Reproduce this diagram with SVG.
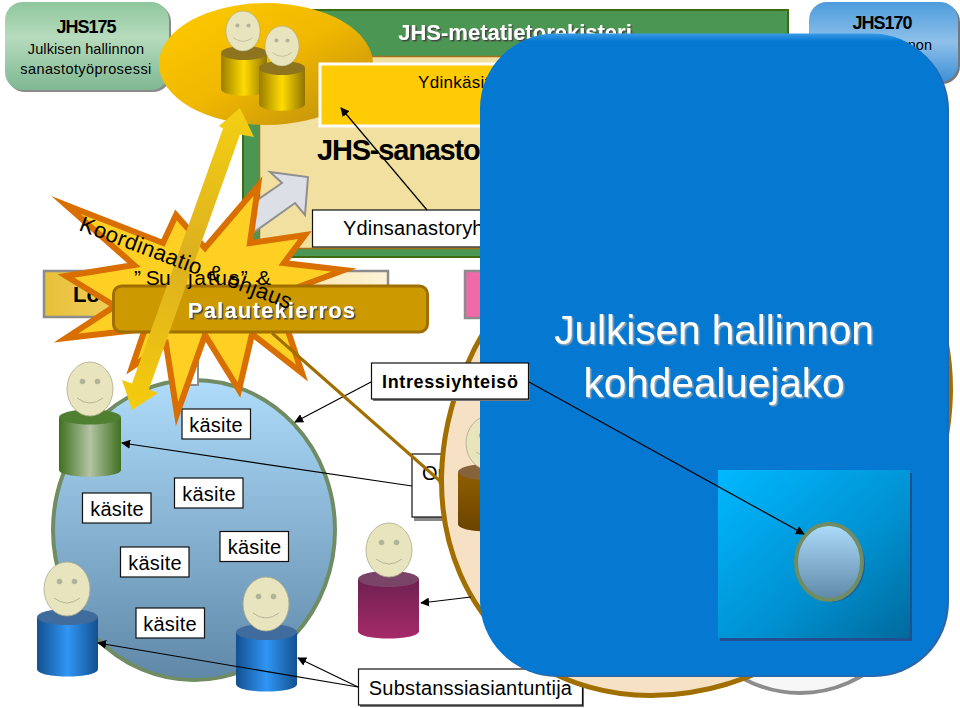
<svg xmlns="http://www.w3.org/2000/svg" width="960" height="708" viewBox="0 0 960 708">
<style>
text{font-family:"Liberation Sans",Arial,sans-serif;fill:#000}
.lab{fill:#fff;stroke:#111;stroke-width:1.2}
.k{font-size:20px;text-anchor:middle;letter-spacing:.2px}
.c{fill:none;stroke:#000;stroke-width:1.2}
.face{fill:#e8e4bd;stroke:#aaa98c;stroke-width:.8}
.eye{fill:#b3b29a}
.smile{fill:none;stroke:#a9a88c;stroke-width:.8}
.w{fill:#fff}
</style>
<defs>
<marker id="a" viewBox="0 0 10 10" refX="9" refY="5" markerWidth="9" markerHeight="9" markerUnits="userSpaceOnUse" orient="auto"><path d="M0 0L10 5L0 10z" fill="#000"/></marker>
<filter id="sh" x="-5%" y="-20%" width="110%" height="140%"><feDropShadow dx="1.500" dy="1.500" stdDeviation=".4" flood-color="#444"/></filter>
<filter id="sh2" x="-5%" y="-20%" width="110%" height="140%"><feDropShadow dx="1.500" dy="1.500" stdDeviation=".6" flood-color="#93a3b2"/></filter>
<linearGradient id="gt" x1="0" y1="0" x2="0" y2="1"><stop offset="0" stop-color="#8fc69c"/><stop offset=".4" stop-color="#b6dbbd"/><stop offset="1" stop-color="#7fb892"/></linearGradient>
<linearGradient id="bt" x1="0" y1="0" x2="0" y2="1"><stop offset="0" stop-color="#4d9ddc"/><stop offset=".5" stop-color="#8fc0ea"/><stop offset="1" stop-color="#3d8fd6"/></linearGradient>
<linearGradient id="oe" x1="0" y1="0" x2="1" y2="1"><stop offset="0" stop-color="#ffcc00"/><stop offset=".5" stop-color="#f0b800"/><stop offset="1" stop-color="#b98a10"/></linearGradient>
<linearGradient id="sk" x1="0" y1="0" x2="0" y2="1"><stop offset="0" stop-color="#afdcfb"/><stop offset="1" stop-color="#5f88a8"/></linearGradient>
<linearGradient id="cg" x1="0" y1="0" x2="1" y2="0"><stop offset="0" stop-color="#3f7020"/><stop offset=".5" stop-color="#b3c4a3"/><stop offset="1" stop-color="#3f7020"/></linearGradient>
<linearGradient id="cb" x1="0" y1="0" x2="1" y2="0"><stop offset="0" stop-color="#14508f"/><stop offset=".5" stop-color="#2f96f5"/><stop offset="1" stop-color="#14508f"/></linearGradient>
<linearGradient id="cy" x1="0" y1="0" x2="1" y2="0"><stop offset="0" stop-color="#9b7d00"/><stop offset=".5" stop-color="#ffdb00"/><stop offset="1" stop-color="#8f7400"/></linearGradient>
<linearGradient id="cm" x1="0" y1="0" x2="0" y2="1"><stop offset="0" stop-color="#6f2050"/><stop offset="1" stop-color="#a52a6a"/></linearGradient>
<linearGradient id="cbr" x1="0" y1="0" x2="0" y2="1"><stop offset="0" stop-color="#8f5f00"/><stop offset="1" stop-color="#6b4300"/></linearGradient>
<linearGradient id="ar" gradientUnits="userSpaceOnUse" x1="240" y1="108" x2="132" y2="410"><stop offset="0" stop-color="#f4d012"/><stop offset=".5" stop-color="#dcb020"/><stop offset="1" stop-color="#f6cc0c"/></linearGradient>
<linearGradient id="sq" x1="0" y1="0" x2="1" y2="1"><stop offset="0" stop-color="#00b8ff"/><stop offset=".6" stop-color="#0090d0"/><stop offset="1" stop-color="#006a9c"/></linearGradient>
<linearGradient id="lp" x1="0" y1="0" x2="1" y2="0"><stop offset="0" stop-color="#e8c038"/><stop offset=".35" stop-color="#f3d878"/><stop offset="1" stop-color="#fcf2d6"/></linearGradient>
<linearGradient id="pn" x1="0" y1="0" x2="0" y2="1"><stop offset="0" stop-color="#3a9ae6"/><stop offset=".012" stop-color="#0578d1"/></linearGradient>
<g id="head"><ellipse cx="0" cy="0" rx="23" ry="27" class="face"/><circle cx="-7.500" cy="-7.500" r="2.800" class="eye"/><circle cx="7.500" cy="-7.500" r="2.800" class="eye"/><path d="M-13 9Q0 19 13 9" class="smile"/></g>
</defs>
<rect width="960" height="708" fill="#fff"/>

<g id="jhs175"><rect x="7" y="4" width="164" height="88" rx="18" fill="#8a8a8a"/><rect x="5" y="2" width="164" height="88" rx="18" fill="url(#gt)"/>
<text x="86" y="33" text-anchor="middle" font-size="18" font-weight="700" letter-spacing="-1">JHS175</text><text x="86" y="54" text-anchor="middle" font-size="14.500" letter-spacing=".1">Julkisen hallinnon</text><text x="86" y="74" text-anchor="middle" font-size="14.500" letter-spacing=".4">sanastotyöprosessi</text></g>

<g id="jhs170"><rect x="811" y="4" width="149" height="80" rx="18" fill="#777"/><rect x="809" y="2" width="149" height="80" rx="18" fill="url(#bt)"/>
<text x="882" y="29" text-anchor="middle" font-size="18" font-weight="700" letter-spacing="-1">JHS170</text><text x="932" y="50" text-anchor="end" font-size="14.500">non</text></g>

<g id="metatieto"><rect x="243" y="10" width="545" height="247" fill="#4c9653" stroke="#3f6a12" stroke-width="2"/>
<rect x="259.500" y="56.500" width="522" height="192" fill="#f1e0a0" stroke="#a66f1a" stroke-width="1.500"/>
<text x="515" y="40" text-anchor="middle" font-size="22" font-weight="700" class="w" filter="url(#sh)">JHS-metatietorekisteri</text>
<path d="M270 172L308 177L305 215L295 203L250 235L250 205L282 183z" fill="#dcdfe6" stroke="#8f8f8f" stroke-width="2"/>
<text x="317" y="160" font-size="29" font-weight="700" letter-spacing="-1.200">JHS-sanasto</text>
<rect x="312.500" y="210" width="300" height="37" class="lab"/><text x="343" y="235" font-size="20" letter-spacing=".2">Ydinsanastoryh</text></g>

<g id="ellipse-top"><ellipse cx="266" cy="64" rx="107" ry="61" fill="url(#oe)"/></g>
<g id="ydinkasit"><rect x="320" y="64" width="440" height="62" fill="#ffcb05" stroke="#fff" stroke-width="3"/>
<text x="418" y="88" font-size="17" letter-spacing=".3">Ydinkäsit</text></g>
<g id="people-top">
<path d="M221 53v36c0 9 46 9 46 0V53z" fill="url(#cy)"/><ellipse cx="244" cy="53" rx="23" ry="7" fill="#8f7420"/>
<use href="#head" transform="translate(243 31) scale(.74)"/>
<path d="M259 68v36c0 9 46 9 46 0V68z" fill="url(#cy)"/><ellipse cx="282" cy="68" rx="23" ry="7" fill="#8f7420"/>
<use href="#head" transform="translate(282 46) scale(.74)"/>
</g>

<g id="loppu"><rect x="44" y="271" width="344" height="46" fill="url(#lp)" stroke="#8c8c8c" stroke-width="2.500"/><text x="73" y="302" font-size="22" font-weight="700">Lo</text></g>
<g id="pink"><rect x="465" y="271" width="100" height="47" fill="#ee6aa8" stroke="#8c8c8c" stroke-width="2.500"/></g>

<g id="grey-ellipse"><ellipse cx="800" cy="550" rx="130" ry="143" fill="#f7f7f7" stroke="#8c8c8c" stroke-width="4"/></g>
<g id="org"><rect x="414" y="458" width="72" height="63" fill="#888"/><rect x="412" y="454" width="72" height="63" class="lab"/><text x="422" y="480" font-size="20">Op</text></g>
<g id="subst"><rect x="360" y="671" width="224" height="36" fill="#777"/><rect x="358.500" y="669" width="224" height="36" class="lab"/><text x="470.500" y="695" text-anchor="middle" font-size="20" letter-spacing=".2">Substanssiasiantuntija</text></g>
<g id="peach"><ellipse cx="696" cy="435" rx="279.500" ry="233.500" transform="rotate(-48.800 696 435)" fill="#f7e1c4" stroke="#a06f00" stroke-width="5"/></g>

<g id="sky"><ellipse cx="194" cy="530" rx="141" ry="150" fill="url(#sk)" stroke="#6f8c62" stroke-width="4"/></g>
<rect x="181" y="350" width="17" height="35" fill="#fff" stroke="#8c8c8c" stroke-width="2"/>

<g id="labels-kasite">
<rect x="182" y="409" width="68.500" height="30" class="lab"/><text x="216" y="432" class="k">käsite</text>
<rect x="174.500" y="478" width="68.500" height="30" class="lab"/><text x="209" y="501" class="k">käsite</text>
<rect x="82.500" y="493" width="68.500" height="30" class="lab"/><text x="117" y="516" class="k">käsite</text>
<rect x="220" y="531.500" width="68.500" height="30" class="lab"/><text x="254.500" y="554" class="k">käsite</text>
<rect x="120.500" y="547" width="68.500" height="30" class="lab"/><text x="155" y="570" class="k">käsite</text>
<rect x="136" y="608" width="68.500" height="30" class="lab"/><text x="170" y="631" class="k">käsite</text>
</g>

<g id="person-green"><path d="M59 417v53c0 9 62 9 62 0V417z" fill="url(#cg)"/><ellipse cx="90" cy="417" rx="31" ry="7.500" fill="#4f7f30"/><use href="#head" x="90" y="389"/></g>
<g id="person-blue1"><path d="M37 617v52c0 10 61 10 61 0V617z" fill="url(#cb)"/><ellipse cx="67.500" cy="617" rx="30.500" ry="8" fill="#3f6c9c"/><use href="#head" x="67" y="589"/></g>
<g id="person-blue2"><path d="M236 632v52c0 10 61 10 61 0V632z" fill="url(#cb)"/><ellipse cx="266.500" cy="632" rx="30.500" ry="8" fill="#3f6c9c"/><use href="#head" x="266" y="604"/></g>
<g id="person-magenta"><path d="M358 579v52c0 10 61 10 61 0V579z" fill="url(#cm)"/><ellipse cx="388.500" cy="579" rx="30.500" ry="8" fill="#7a4468"/><use href="#head" x="389" y="550"/></g>
<g id="person-brown"><path d="M458 472v52c0 10 61 10 61 0V472z" fill="url(#cbr)"/><ellipse cx="488.500" cy="472" rx="30.500" ry="8" fill="#86633a"/><use href="#head" x="489" y="443"/></g>

<g id="connectors">
<path class="c" d="M371 382L295 422" marker-end="url(#a)"/>
<path class="c" d="M412 486L122 443" marker-end="url(#a)"/>
<path class="c" d="M358 687L298 658" marker-end="url(#a)"/>
<path class="c" d="M358 687L98 643" marker-end="url(#a)"/>
<path class="c" d="M471 597L421 603" marker-end="url(#a)"/>
<path class="c" d="M427 210L341 108" marker-end="url(#a)"/>
</g>

<g id="star"><path d="M66 205L163 243L176 215L205 248L258 186L250 243L305 235L284 263L344 270L285 292L288 331L302 373L252 334L239 390L205 335L177 414L166 344L132 367L145 329L66 338L115 306L66 276L134 265z" fill="#ffd024" stroke="#d96f00" stroke-width="6" stroke-miterlimit="12"/></g>
<path id="brown-line" d="M272 333L440 481" fill="none" stroke="#a06f00" stroke-width="3"/>
<g id="palaute"><rect x="113.500" y="286" width="314" height="46" rx="8" fill="#cc9900" stroke="#a06f00" stroke-width="3"/><text x="272" y="318" text-anchor="middle" font-size="22" font-weight="700" letter-spacing="1.200" class="w" filter="url(#sh)">Palautekierros</text></g>
<path id="yellow-arrow" d="M240 108L254 137L240 134.500L148.800 389.500L158 393L132 410L122 380L132 383.500L223 128.500L219 126z" fill="url(#ar)"/>
<g id="star-text">
<text transform="translate(78 230) rotate(20.600)" font-size="22" textLength="225" lengthAdjust="spacing">Koordinaatio &amp; ohjaus</text>
<text x="134" y="285" font-size="21"><tspan letter-spacing="-.6">” Su</tspan><tspan x="188" letter-spacing="1.700">jatus” &amp;</tspan></text>
</g>

<g id="panel"><rect x="482" y="35" width="467" height="642" rx="75" fill="#2a66a8"/><rect x="480" y="33.500" width="467" height="642" rx="75" fill="url(#pn)"/>
<g text-anchor="middle" font-size="40.500" class="w"><text x="714" y="344" class="w" filter="url(#sh2)">Julkisen hallinnon</text>
<text x="714" y="397" class="w" filter="url(#sh2)">kohdealuejako</text></g>
<rect x="720" y="473" width="192" height="168" fill="#1f4f90"/><rect x="718" y="470" width="192" height="168" fill="url(#sq)"/>
<ellipse cx="832" cy="564" rx="33" ry="38" fill="#1f5c98"/><ellipse cx="829" cy="562" rx="33" ry="38" fill="url(#sk)" stroke="#6f8c62" stroke-width="4"/></g>
<g id="intressi"><rect x="373" y="365" width="157" height="36" fill="#777"/><rect x="371.500" y="363" width="157" height="36" class="lab"/><text x="382" y="388" font-size="18" font-weight="700" textLength="136" lengthAdjust="spacing">Intressiyhteisö</text></g>
<path class="c" d="M529 382L804 534" marker-end="url(#a)"/>
</svg>
